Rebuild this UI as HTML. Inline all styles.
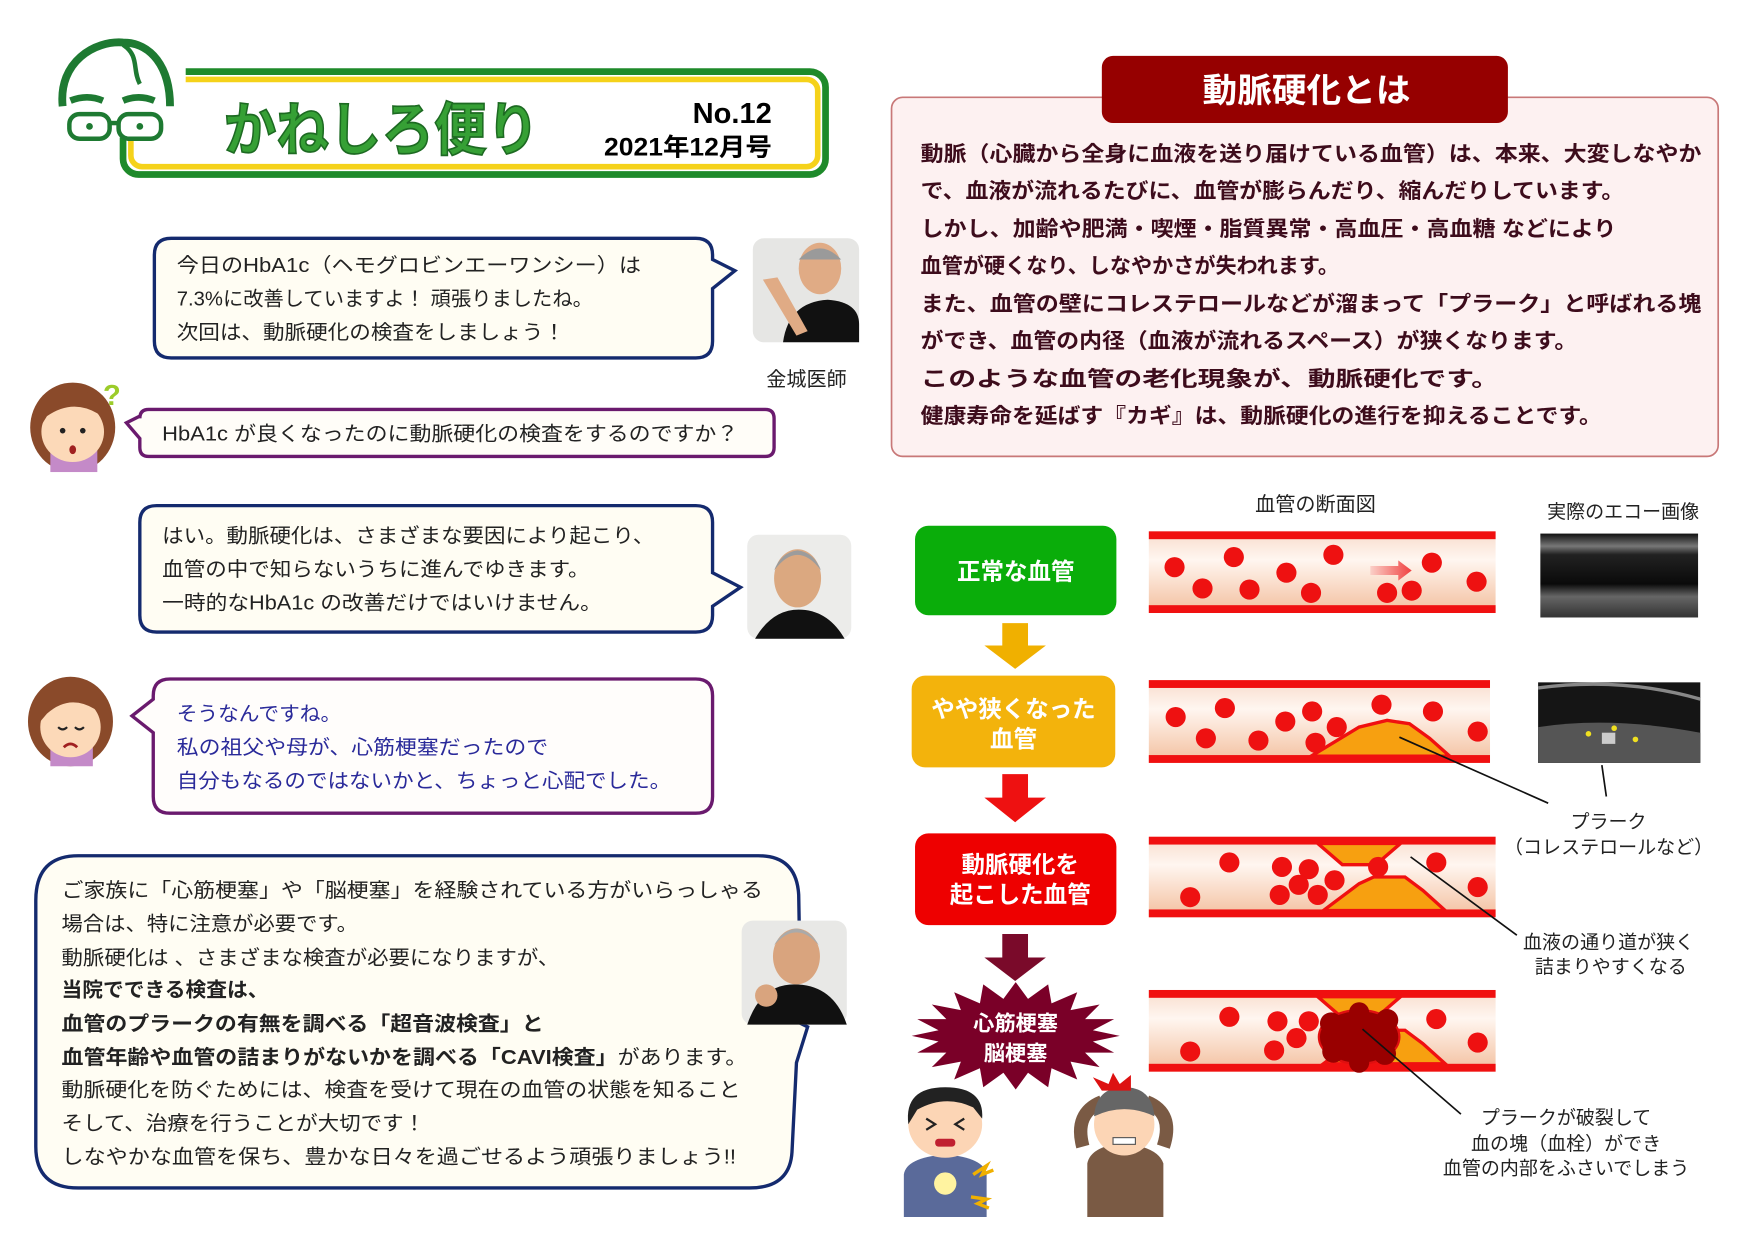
<!DOCTYPE html>
<html><head><meta charset="utf-8"><style>
html,body{margin:0;padding:0;background:#fff;}
svg{display:block;}
text{font-family:"Liberation Sans","Noto Sans CJK JP",sans-serif;}
</style></head><body>
<svg width="1754" height="1241" viewBox="0 0 1568 1109.4" preserveAspectRatio="none" xmlns="http://www.w3.org/2000/svg">
<defs>
<linearGradient id="vg" x1="0" y1="0" x2="0" y2="1">
<stop offset="0" stop-color="#f8dccc"/><stop offset="0.35" stop-color="#fff6f0"/><stop offset="1" stop-color="#f3bf9e"/>
</linearGradient>
<linearGradient id="ag" x1="0" y1="0" x2="1" y2="0">
<stop offset="0" stop-color="#fbd0c8"/><stop offset="1" stop-color="#f04040"/>
</linearGradient>
<linearGradient id="eg" x1="0" y1="0" x2="0" y2="1">
<stop offset="0" stop-color="#111"/><stop offset="0.15" stop-color="#777"/><stop offset="0.25" stop-color="#222"/><stop offset="0.6" stop-color="#0a0a0a"/><stop offset="0.75" stop-color="#666"/><stop offset="1" stop-color="#333"/>
</linearGradient>
</defs>
<rect width="1568" height="1110" fill="#fff"/>

<!-- Header -->
<rect x="110" y="64" width="628" height="92" rx="14" fill="#fff" stroke="#1e8a2a" stroke-width="6"/>
<rect x="117" y="71" width="614" height="78" rx="10" fill="none" stroke="#f5d21a" stroke-width="5"/>
<rect x="98" y="55" width="68" height="68" fill="#fff"/>
<!-- face logo -->
<path d="M56,95 C52,55 85,36 110,38 C135,38 152,60 152,95" fill="none" stroke="#1e7a32" stroke-width="7"/>
<path d="M110,40 C125,50 118,62 125,75" fill="none" stroke="#1e7a32" stroke-width="4"/>
<path d="M63,90 Q78,84 92,90" stroke="#1e7a32" stroke-width="6" fill="none"/>
<path d="M110,90 Q124,84 138,90" stroke="#1e7a32" stroke-width="6" fill="none"/>
<rect x="62" y="102" width="36" height="22" rx="9" fill="#fff" stroke="#1e7a32" stroke-width="4"/>
<rect x="106" y="102" width="38" height="22" rx="9" fill="#fff" stroke="#1e7a32" stroke-width="4"/>
<line x1="98" y1="110" x2="106" y2="110" stroke="#1e7a32" stroke-width="4"/>
<circle cx="80" cy="113" r="3" fill="#1e7a32"/><circle cx="125" cy="113" r="3" fill="#1e7a32"/>
<text x="200" y="134" font-size="52" font-weight="bold" fill="#36a035" stroke="#1d6a22" stroke-width="1.5" textLength="282" lengthAdjust="spacingAndGlyphs">かねしろ便り</text>
<text x="690" y="110" font-size="26" font-weight="bold" fill="#000" text-anchor="end">No.12</text>
<text x="690" y="139" font-size="22" font-weight="bold" fill="#000" text-anchor="end" textLength="150" lengthAdjust="spacingAndGlyphs">2021年12月号</text>

<!-- Bubble 1 -->
<path d="M153,213 H622 Q637,213 637,228 V232 L657,242 L637,258 V305 Q637,320 622,320 H153 Q138,320 138,305 V228 Q138,213 153,213 Z" fill="#fffdf3" stroke="#142a6e" stroke-width="3"/>
<g font-size="18" fill="#222">
<text x="158" y="243" textLength="415" lengthAdjust="spacingAndGlyphs">今日のHbA1c（ヘモグロビンエーワンシー）は</text>
<text x="158" y="273" textLength="372" lengthAdjust="spacingAndGlyphs">7.3%に改善していますよ！ 頑張りましたね。</text>
<text x="158" y="303" textLength="347" lengthAdjust="spacingAndGlyphs">次回は、動脈硬化の検査をしましょう！</text>
</g>
<!-- photo1 -->
<rect x="673" y="213" width="95" height="93" rx="10" fill="#e6e6e4"/>
<path d="M700,306 Q705,270 740,268 Q768,270 768,290 V306 Z" fill="#111"/>
<ellipse cx="733" cy="240" rx="19" ry="23" fill="#e0ab85"/>
<path d="M714,232 Q733,212 752,232" fill="#9a9a9a"/>
<path d="M682,250 L712,300 L722,296 L695,248 Z" fill="#e0ab85"/>
<text x="721" y="345" font-size="18" fill="#222" text-anchor="middle">金城医師</text>

<!-- woman 1 -->
<ellipse cx="65" cy="382" rx="38" ry="40" fill="#8a4a2a"/>
<rect x="45" y="400" width="42" height="22" fill="#c48ac8"/>
<ellipse cx="65" cy="386" rx="28" ry="27" fill="#fcd9b8"/>
<path d="M37,380 Q45,345 75,350 Q95,355 95,380 L88,370 Q65,356 42,372 Z" fill="#8a4a2a"/>
<circle cx="56" cy="385" r="2.5" fill="#222"/><circle cx="74" cy="385" r="2.5" fill="#222"/>
<ellipse cx="65" cy="402" rx="3" ry="4" fill="#a02020"/>
<text x="100" y="362" font-size="26" font-weight="bold" fill="#9ccc2a" text-anchor="middle">?</text>

<!-- Bubble 2 -->
<path d="M133,366 H684 Q692,366 692,374 V400 Q692,408 684,408 H133 Q125,408 125,400 V392 L113,378 L125,372 V374 Q125,366 133,366 Z" fill="#fffdf8" stroke="#6a1a6e" stroke-width="3"/>
<text x="145" y="394" font-size="18" fill="#222" textLength="515" lengthAdjust="spacingAndGlyphs">HbA1c が良くなったのに動脈硬化の検査をするのですか？</text>

<!-- Bubble 3 -->
<path d="M140,452 H622 Q637,452 637,467 V512 L662,525 L637,542 V550 Q637,565 622,565 H140 Q125,565 125,550 V467 Q125,452 140,452 Z" fill="#fffdf3" stroke="#142a6e" stroke-width="3"/>
<g font-size="18" fill="#222">
<text x="145" y="485" textLength="440" lengthAdjust="spacingAndGlyphs">はい。動脈硬化は、さまざまな要因により起こり、</text>
<text x="145" y="515" textLength="382" lengthAdjust="spacingAndGlyphs">血管の中で知らないうちに進んでゆきます。</text>
<text x="145" y="545" textLength="393" lengthAdjust="spacingAndGlyphs">一時的なHbA1c の改善だけではいけません。</text>
</g>
<!-- photo2 -->
<rect x="668" y="478" width="93" height="93" rx="10" fill="#ececea"/>
<path d="M675,571 Q690,545 714,545 Q740,545 755,571 Z" fill="#111"/>
<ellipse cx="713" cy="517" rx="21" ry="26" fill="#dba880"/>
<path d="M692,510 Q713,482 734,510 Q728,494 713,492 Q698,494 692,510 Z" fill="#9c9c9c"/>

<!-- woman 2 -->
<ellipse cx="63" cy="645" rx="38" ry="40" fill="#8a4a2a"/>
<rect x="45" y="665" width="38" height="20" fill="#c48ac8"/>
<ellipse cx="63" cy="650" rx="27" ry="27" fill="#fcd9b8"/>
<path d="M36,645 Q42,608 72,612 Q94,618 92,645 L85,634 Q62,620 42,638 Z" fill="#8a4a2a"/>
<path d="M52,650 Q56,654 60,650 M67,650 Q71,654 75,650" stroke="#222" stroke-width="2" fill="none"/>
<path d="M57,668 Q63,662 69,668" stroke="#a02020" stroke-width="2.5" fill="none"/>

<!-- Bubble 4 -->
<path d="M152,607 H622 Q637,607 637,622 V712 Q637,727 622,727 H152 Q137,727 137,712 V655 L118,640 L137,625 V622 Q137,607 152,607 Z" fill="#fffdfb" stroke="#6a1a6e" stroke-width="3"/>
<g font-size="18" fill="#2a2a9a">
<text x="158" y="644" textLength="147" lengthAdjust="spacingAndGlyphs">そうなんですね。</text>
<text x="158" y="674" textLength="332" lengthAdjust="spacingAndGlyphs">私の祖父や母が、心筋梗塞だったので</text>
<text x="158" y="704" textLength="442" lengthAdjust="spacingAndGlyphs">自分もなるのではないかと、ちょっと心配でした。</text>
</g>

<!-- Bubble 5 -->
<path d="M70,765 H678 Q712,765 714,800 L716,915 L722,918 L712,950 L708,1030 Q706,1062 670,1062 H70 Q32,1062 32,1025 V805 Q32,765 70,765 Z" fill="#fffdf3" stroke="#142a6e" stroke-width="3"/>
<g font-size="18" fill="#222">
<text x="55" y="802" textLength="627" lengthAdjust="spacingAndGlyphs">ご家族に「心筋梗塞」や「脳梗塞」を経験されている方がいらっしゃる</text>
<text x="55" y="832" textLength="265" lengthAdjust="spacingAndGlyphs">場合は、特に注意が必要です。</text>
<text x="55" y="862" textLength="445" lengthAdjust="spacingAndGlyphs">動脈硬化は 、さまざまな検査が必要になりますが、</text>
<text x="55" y="891" font-weight="bold" textLength="185" lengthAdjust="spacingAndGlyphs">当院でできる検査は、</text>
<text x="55" y="921" font-weight="bold" textLength="431" lengthAdjust="spacingAndGlyphs">血管のプラークの有無を調べる「超音波検査」と</text>
<text x="55" y="951" textLength="613" lengthAdjust="spacingAndGlyphs"><tspan font-weight="bold">血管年齢や血管の詰まりがないかを調べる「CAVI検査」</tspan>があります。</text>
<text x="55" y="980" textLength="607" lengthAdjust="spacingAndGlyphs">動脈硬化を防ぐためには、検査を受けて現在の血管の状態を知ること</text>
<text x="55" y="1010" textLength="325" lengthAdjust="spacingAndGlyphs">そして、治療を行うことが大切です！</text>
<text x="55" y="1040" textLength="603" lengthAdjust="spacingAndGlyphs">しなやかな血管を保ち、豊かな日々を過ごせるよう頑張りましょう!!</text>
</g>
<!-- photo3 -->
<rect x="663" y="823" width="94" height="93" rx="10" fill="#e8e8e6"/>
<path d="M668,916 Q680,880 710,880 Q745,880 757,916 Z" fill="#111"/>
<ellipse cx="712" cy="855" rx="21" ry="25" fill="#d9a47e"/>
<path d="M692,845 Q712,822 732,845 Q725,832 712,830 Q699,832 692,845 Z" fill="#aaa"/>
<circle cx="685" cy="890" r="10" fill="#d9a47e"/>

<!-- Right: 動脈硬化とは -->
<rect x="797" y="87" width="739" height="321" rx="10" fill="#fdf1f1" stroke="#c87878" stroke-width="1.5"/>
<rect x="985" y="50" width="363" height="60" rx="10" fill="#960000"/>
<text x="1168" y="91" font-size="30" font-weight="bold" fill="#fff" text-anchor="middle" textLength="186" lengthAdjust="spacingAndGlyphs">動脈硬化とは</text>
<g font-size="19" font-weight="bold" fill="#3d0c1c">
<text x="823" y="144" textLength="698" lengthAdjust="spacingAndGlyphs">動脈（心臓から全身に血液を送り届けている血管）は、本来、大変しなやか</text>
<text x="823" y="177" textLength="629" lengthAdjust="spacingAndGlyphs">で、血液が流れるたびに、血管が膨らんだり、縮んだりしています。</text>
<text x="823" y="211" textLength="622" lengthAdjust="spacingAndGlyphs">しかし、加齢や肥満・喫煙・脂質異常・高血圧・高血糖 などにより</text>
<text x="823" y="244" textLength="374" lengthAdjust="spacingAndGlyphs">血管が硬くなり、しなやかさが失われます。</text>
<text x="823" y="278" textLength="698" lengthAdjust="spacingAndGlyphs">また、血管の壁にコレステロールなどが溜まって「プラーク」と呼ばれる塊</text>
<text x="823" y="311" textLength="587" lengthAdjust="spacingAndGlyphs">ができ、血管の内径（血液が流れるスペース）が狭くなります。</text>
<text x="823" y="345" textLength="517" lengthAdjust="spacingAndGlyphs">このような血管の老化現象が、動脈硬化です。</text>
<text x="823" y="378" textLength="609" lengthAdjust="spacingAndGlyphs">健康寿命を延ばす『カギ』は、動脈硬化の進行を抑えることです。</text>
</g>

<text x="1176" y="457" font-size="18" fill="#222" text-anchor="middle">血管の断面図</text>
<text x="1451" y="463" font-size="17" fill="#222" text-anchor="middle">実際のエコー画像</text>

<!-- flow boxes -->
<rect x="818" y="470" width="180" height="80" rx="12" fill="#0aad0a"/>
<text x="908" y="518" font-size="21" font-weight="bold" fill="#fff" text-anchor="middle">正常な血管</text>
<polygon points="896,557 919,557 919,577 935,577 907.5,598 880,577 896,577" fill="#f0b000"/>
<rect x="815" y="604" width="182" height="82" rx="12" fill="#f3b30c"/>
<text x="906" y="641" font-size="21" font-weight="bold" fill="#fff" text-anchor="middle">やや狭くなった</text>
<text x="906" y="668" font-size="21" font-weight="bold" fill="#fff" text-anchor="middle">血管</text>
<polygon points="896,692 919,692 919,713 935,713 907.5,735 880,713 896,713" fill="#ee1111"/>
<rect x="818" y="745" width="180" height="82" rx="12" fill="#ee0000"/>
<text x="912" y="780" font-size="21" font-weight="bold" fill="#fff" text-anchor="middle">動脈硬化を</text>
<text x="912" y="807" font-size="21" font-weight="bold" fill="#fff" text-anchor="middle">起こした血管</text>
<polygon points="896,835 919,835 919,856 935,856 907.5,877 880,856 896,856" fill="#7a0a2a"/>
<polygon points="1001,926 977,931 996,941 970,941 983,954 957,949 963,965 940,955 937,972 919,959 908,974 897,959 879,972 876,955 853,965 859,949 833,954 846,941 820,941 839,931 815,926 839,921 820,911 846,911 833,898 859,903 853,887 876,897 879,880 897,893 908,878 919,893 937,880 940,897 963,887 957,903 983,898 970,911 996,911 977,921" fill="#7a0028"/>
<text x="908" y="921" font-size="19" font-weight="bold" fill="#fff" text-anchor="middle">心筋梗塞</text>
<text x="908" y="948" font-size="19" font-weight="bold" fill="#fff" text-anchor="middle">脳梗塞</text>

<!-- people -->
<path d="M808,1088 V1050 Q810,1035 845,1032 Q880,1035 882,1050 V1088 Z" fill="#5a6a9a"/>
<ellipse cx="845" cy="1005" rx="33" ry="30" fill="#fcd5b5"/>
<path d="M812,1005 Q808,972 845,972 Q880,972 878,1000 L870,990 Q845,978 820,992 Z" fill="#222"/>
<path d="M828,1000 l8,5 l-8,5 M862,1000 l-8,5 l8,5" stroke="#222" stroke-width="2" fill="none"/>
<rect x="836" y="1018" width="18" height="7" rx="3" fill="#c02030"/>
<circle cx="845" cy="1058" r="10" fill="#fff3a0"/>
<path d="M870,1050 l12,-8 l-4,8 l10,-4 M868,1070 l14,2 l-8,4 l10,4" stroke="#f0b000" stroke-width="3" fill="none"/>
<path d="M972,1088 V1040 Q975,1025 1003,1022 Q1035,1025 1040,1040 V1088 Z" fill="#7a5a44"/>
<path d="M968,1025 Q960,995 985,985 M1040,1025 Q1050,995 1025,985" stroke="#7a5a44" stroke-width="12" fill="none"/>
<ellipse cx="1005" cy="1005" rx="27" ry="28" fill="#fcd5b5"/>
<path d="M978,998 Q980,972 1005,972 Q1030,972 1032,998 Q1005,985 978,998 Z" fill="#666"/>
<path d="M985,975 l-8,-12 l14,6 l4,-10 l6,10 l10,-8 l0,14" fill="#dd1111"/>
<rect x="995" y="1017" width="20" height="6" fill="#fff" stroke="#555"/>

<!-- Vessel 1 -->
<rect x="1027" y="475" width="310" height="73" fill="url(#vg)"/>
<rect x="1027" y="475" width="310" height="7" fill="#f01010"/>
<rect x="1027" y="541" width="310" height="7" fill="#f01010"/>
<g fill="#ee1111">
<circle cx="1050" cy="507" r="9"/><circle cx="1103" cy="498" r="9"/><circle cx="1075" cy="526" r="9"/>
<circle cx="1150" cy="512" r="9"/><circle cx="1117" cy="527" r="9"/><circle cx="1192" cy="496" r="9"/>
<circle cx="1172" cy="530" r="9"/><circle cx="1240" cy="530" r="9"/><circle cx="1280" cy="503" r="9"/>
<circle cx="1262" cy="528" r="9"/><circle cx="1320" cy="520" r="9"/>
</g>
<polygon points="1225,506 1250,506 1250,501 1262,510 1250,519 1250,514 1225,514" fill="url(#ag)"/>

<!-- Vessel 2 -->
<rect x="1027" y="608" width="305" height="74" fill="url(#vg)"/>
<polygon points="1172,676 1215,650 1240,644 1260,647 1278,660 1296,676" fill="#f7a010" stroke="#f01010" stroke-width="3"/>
<rect x="1027" y="608" width="305" height="7" fill="#f01010"/>
<rect x="1027" y="675" width="305" height="7" fill="#f01010"/>
<g fill="#ee1111">
<circle cx="1051" cy="641" r="9"/><circle cx="1095" cy="633" r="9"/><circle cx="1078" cy="660" r="9"/>
<circle cx="1149" cy="645" r="9"/><circle cx="1173" cy="636" r="9"/><circle cx="1125" cy="662" r="9"/>
<circle cx="1176" cy="664" r="9"/><circle cx="1195" cy="650" r="9"/><circle cx="1235" cy="630" r="9"/>
<circle cx="1281" cy="636" r="9"/><circle cx="1321" cy="654" r="9"/>
</g>

<!-- Vessel 3 -->
<rect x="1027" y="748" width="310" height="72" fill="url(#vg)"/>
<polygon points="1178,754 1252,754 1230,773 1200,773" fill="#f7a010" stroke="#f01010" stroke-width="3"/>
<polygon points="1183,814 1215,790 1228,784 1256,784 1272,796 1292,814" fill="#f7a010" stroke="#f01010" stroke-width="3"/>
<rect x="1027" y="748" width="310" height="7" fill="#f01010"/>
<rect x="1027" y="813" width="310" height="7" fill="#f01010"/>
<g fill="#ee1111">
<circle cx="1099" cy="771" r="9"/><circle cx="1146" cy="775" r="9"/><circle cx="1170" cy="777" r="9"/>
<circle cx="1193" cy="787" r="9"/><circle cx="1161" cy="791" r="9"/><circle cx="1144" cy="800" r="9"/>
<circle cx="1178" cy="800" r="9"/><circle cx="1232" cy="775" r="9"/><circle cx="1284" cy="771" r="9"/>
<circle cx="1321" cy="793" r="9"/><circle cx="1064" cy="802" r="9"/>
</g>

<!-- Vessel 4 -->
<rect x="1027" y="885" width="310" height="73" fill="url(#vg)"/>
<polygon points="1178,891 1252,891 1230,910 1200,910" fill="#f7a010" stroke="#f01010" stroke-width="3"/>
<polygon points="1183,951 1215,927 1228,921 1256,921 1272,933 1292,951" fill="#f7a010" stroke="#f01010" stroke-width="3"/>
<rect x="1027" y="885" width="310" height="7" fill="#f01010"/>
<rect x="1027" y="951" width="310" height="7" fill="#f01010"/>
<g fill="#ee1111">
<circle cx="1099" cy="909" r="9"/><circle cx="1142" cy="913" r="9"/><circle cx="1170" cy="913" r="9"/>
<circle cx="1159" cy="928" r="9"/><circle cx="1139" cy="939" r="9"/><circle cx="1064" cy="940" r="9"/>
<circle cx="1284" cy="911" r="9"/><circle cx="1321" cy="932" r="9"/>
</g>
<g fill="#990000" stroke="#e01010" stroke-width="2">
<ellipse cx="1215" cy="927" rx="36" ry="24"/>
</g>
<g fill="#990000">
<circle cx="1190" cy="915" r="10"/><circle cx="1240" cy="912" r="10"/><circle cx="1192" cy="940" r="10"/><circle cx="1238" cy="942" r="10"/><circle cx="1215" cy="905" r="9"/><circle cx="1215" cy="950" r="9"/>
</g>

<!-- echo images -->
<rect x="1377" y="477" width="141" height="75" fill="url(#eg)"/>
<rect x="1375" y="610" width="145" height="72" fill="#151515"/>
<path d="M1375,650 Q1440,640 1520,655 V682 H1375 Z" fill="#555"/>
<path d="M1375,615 Q1450,605 1520,625" stroke="#888" stroke-width="3" fill="none"/>
<rect x="1432" y="655" width="12" height="10" fill="#ccc"/>
<g fill="#f0e020"><circle cx="1420" cy="656" r="2.5"/><circle cx="1443" cy="651" r="2.5"/><circle cx="1462" cy="661" r="2.5"/></g>

<!-- leader lines -->
<g stroke="#111" stroke-width="1.5">
<line x1="1251" y1="659" x2="1384" y2="718"/>
<line x1="1432" y1="684" x2="1436" y2="712"/>
<line x1="1261" y1="766" x2="1356" y2="836"/>
<line x1="1218" y1="920" x2="1306" y2="996"/>
</g>
<g font-size="17" fill="#222" text-anchor="middle">
<text x="1438" y="740">プラーク</text>
<text x="1438" y="763">（コレステロールなど）</text>
<text x="1438" y="848">血液の通り道が狭く</text>
<text x="1440" y="870">詰まりやすくなる</text>
<text x="1400" y="1005">プラークが破裂して</text>
<text x="1400" y="1028">血の塊（血栓）ができ</text>
<text x="1400" y="1050">血管の内部をふさいでしまう</text>
</g>
</svg>
</body></html>
